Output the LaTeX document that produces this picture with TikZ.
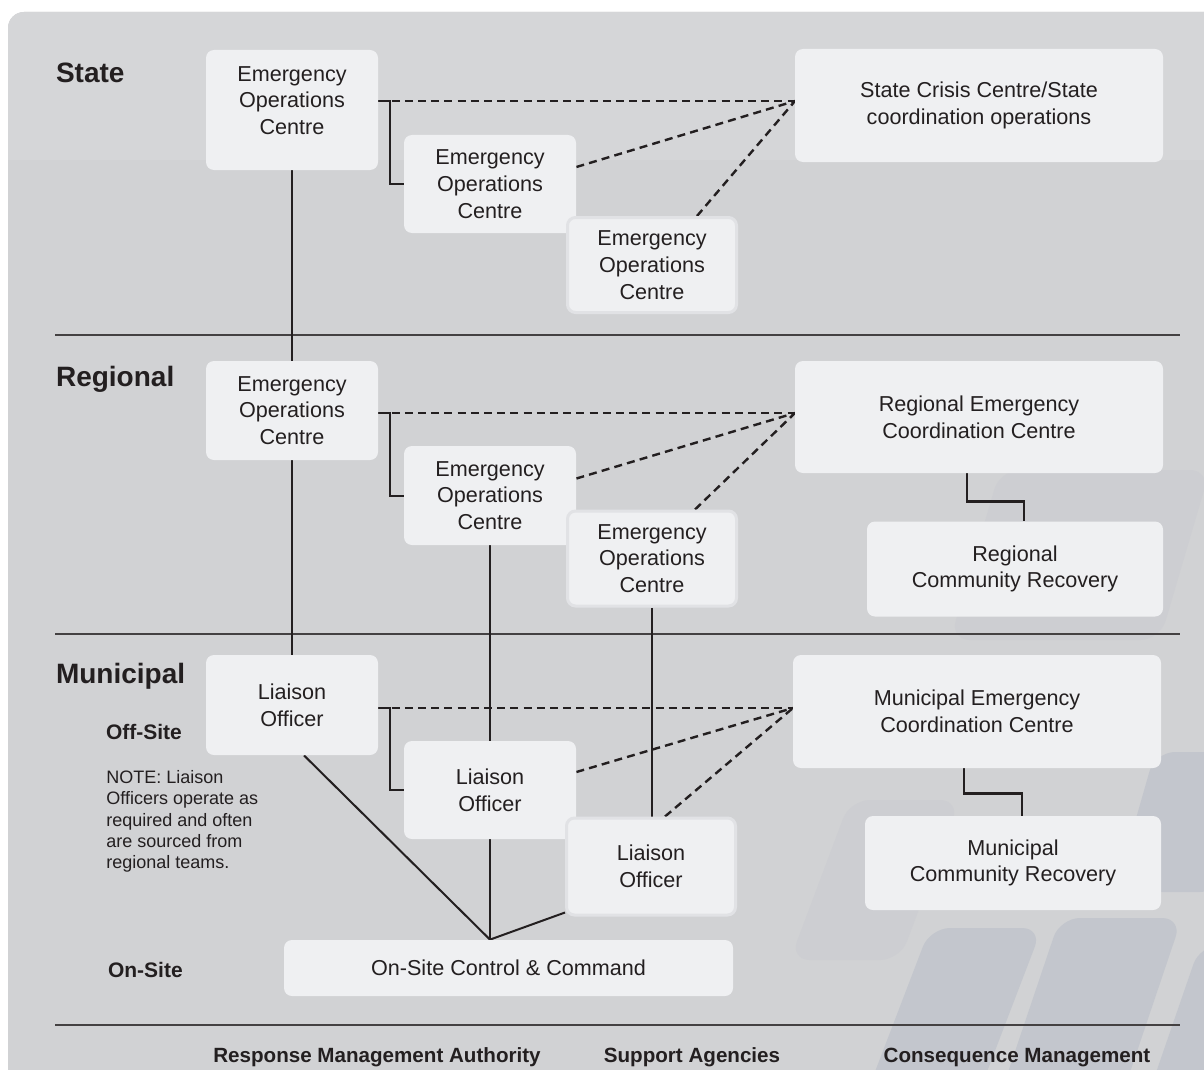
\documentclass[tikz,border=0pt]{standalone}
\usepackage{fontspec}
\setmainfont{Liberation Sans}

\definecolor{bggrey}{HTML}{D1D2D4}
\definecolor{bandgrey}{HTML}{D5D6D8}
\definecolor{boxfill}{HTML}{EFF0F2}
\definecolor{rimgrey}{HTML}{E1E2E5}
\definecolor{decogrey}{HTML}{C3C6CD}
\definecolor{decofaint}{HTML}{CDCED2}
\definecolor{ink}{HTML}{231F20}

\pgfdeclarelayer{backdrop}
\pgfdeclarelayer{wires}
\pgfsetlayers{backdrop,wires,main}

\tikzset{
    box/.style={rectangle, rounded corners=4pt, fill=boxfill, text=ink, align=center,
        inner sep=0pt, font=\fontsize{10.8}{13.35}\selectfont},
    rimbox/.style={box, draw=rimgrey, line width=1.5pt},
    link/.style={draw=ink, line width=1pt},
    dashlink/.style={draw=ink, line width=1.2pt, dash pattern=on 4pt off 2.6pt},
    level/.style={anchor=base west, text=ink, font=\bfseries\fontsize{14}{17}\selectfont},
    sublevel/.style={anchor=base west, text=ink, font=\bfseries\fontsize{10.5}{12}\selectfont},
    column/.style={anchor=base, text=ink, font=\bfseries\fontsize{10.3}{12}\selectfont},
    notetext/.style={anchor=north west, align=left, inner sep=0pt, text=ink,
        font=\fontsize{9}{10.65}\selectfont},
    deco/.style={fill=decogrey, rounded corners=10pt}
}

\begin{document}
\begin{tikzpicture}[x=0.5pt, y=-0.5pt]
    \useasboundingbox (0,0) rectangle (1204,1070);
    \clip (0,0) rectangle (1204,1070);

    \begin{pgfonlayer}{backdrop}
    \fill[white] (0,0) rectangle (1204,1070);
    \fill[bggrey, rounded corners=8pt] (8,12) rectangle (1240,1110);
    \fill[bandgrey] (8,160) [rounded corners=8pt] -- (8,12) -- (1240,12) [sharp corners] -- (1240,160) -- cycle;

    \fill[decofaint, rounded corners=10pt] (850,800) -- (960,800) -- (900,960) -- (790,960) -- cycle;
    \fill[decofaint, rounded corners=10pt] (1000,470) -- (1210,470) -- (1160,640) -- (950,640) -- cycle;
    \fill[deco] (1155,752) -- (1260,752) -- (1220,892) -- (1115,892) -- cycle;
    \fill[deco] (930,928) -- (1042,928) -- (980,1090) -- (868,1090) -- cycle;
    \fill[deco] (1060,918) -- (1182,918) -- (1124,1090) -- (1002,1090) -- cycle;
    \fill[deco] (1200,945) -- (1260,945) -- (1210,1090) -- (1150,1090) -- cycle;

    \draw[ink!85, line width=0.8pt] (55,335) -- (1180,335);
    \draw[ink!85, line width=0.8pt] (55,634) -- (1180,634);
    \draw[ink!85, line width=0.8pt] (55,1025) -- (1180,1025);
    \end{pgfonlayer}

    \node[level] (stateLbl) at (49,83) {State};
    \node[level] (regionalLbl) at (49,386) {Regional};
    \node[level] (municipalLbl) at (49,683) {Municipal};
    \node[sublevel] (offsiteLbl) at (99,739) {Off-Site};
    \node[sublevel] (onsiteLbl) at (101,977) {On-Site};
    \node[notetext] (liaisonNote) at (106,770) {NOTE: Liaison\\Officers operate as\\required and often\\are sourced from\\regional teams.};

    \node[box, minimum width=86pt, text height=42.35pt, text depth=17.65pt] (stateEoc) at (292,110) {Emergency\\Operations\\Centre};
    \node[box, minimum width=86pt, minimum height=49pt] (stateEocB) at (490,184) {Emergency\\Operations\\Centre};
    \node[rimbox, minimum width=84.5pt, minimum height=47.5pt] (stateEocC) at (652,265) {Emergency\\Operations\\Centre};
    \node[box, minimum width=184pt, minimum height=56.5pt] (stateCrisis) at (979,105.5) {State Crisis Centre/State\\coordination operations};

    \node[box, minimum width=86pt, minimum height=49.5pt] (regEoc) at (292,410.5) {Emergency\\Operations\\Centre};
    \node[box, minimum width=86pt, minimum height=49.5pt] (regEocB) at (490,495.5) {Emergency\\Operations\\Centre};
    \node[rimbox, minimum width=84.5pt, minimum height=47.5pt] (regEocC) at (652,558.5) {Emergency\\Operations\\Centre};
    \node[box, minimum width=184pt, minimum height=56pt] (regCoord) at (979,417) {Regional Emergency\\Coordination Centre};
    \node[box, minimum width=148pt, minimum height=47.5pt] (regRecovery) at (1015,569) {Regional\\Community Recovery};

    \node[box, minimum width=86pt, minimum height=50pt] (munLiaison) at (292,705) {Liaison\\Officer};
    \node[box, minimum width=86pt, minimum height=49pt] (munLiaisonB) at (490,790) {Liaison\\Officer};
    \node[rimbox, minimum width=84.5pt, minimum height=48.5pt] (munLiaisonC) at (651,866.5) {Liaison\\Officer};
    \node[box, minimum width=184pt, minimum height=56.5pt] (munCoord) at (977,711.5) {Municipal Emergency\\Coordination Centre};
    \node[box, minimum width=148pt, minimum height=47pt] (munRecovery) at (1013,863) {Municipal\\Community Recovery};

    \node[box, minimum width=224.5pt, minimum height=28pt] (onsiteCmd) at (508.5,968) {On-Site Control \& Command};

    \node[column] (rmaLbl) at (377,1062) {Response Management Authority};
    \node[column] (supportLbl) at (692,1062) {Support Agencies};
    \node[column] (consequenceLbl) at (1017,1062) {Consequence Management};

    \coordinate (stateHub) at (795,101);
    \coordinate (regHub) at (795,413);
    \coordinate (munHub) at (793,708);
    \coordinate (onsiteJoin) at (onsiteCmd.north -| regEocB.south);

    \begin{pgfonlayer}{wires}
    \draw[dashlink] (stateEoc.east |- stateHub) -- (stateHub);
    \draw[dashlink] ([yshift=8.5pt]stateEocB.east) -- (stateHub);
    \draw[dashlink] ([xshift=22.5pt]stateEocC.north) -- (stateHub);
    \draw[link] (stateEoc.east |- stateHub) -| ([xshift=-7pt]stateEocB.west) -- (stateEocB.west);

    \draw[dashlink] (regEoc.east |- regHub) -- (regHub);
    \draw[dashlink] ([yshift=8.5pt]regEocB.east) -- (regHub);
    \draw[dashlink] ([xshift=21.5pt]regEocC.north) -- (regHub);
    \draw[link] (regEoc.east |- regHub) -| ([xshift=-7pt]regEocB.west) -- (regEocB.west);

    \draw[dashlink] (munLiaison.east |- munHub) -- (munHub);
    \draw[dashlink] ([yshift=9pt]munLiaisonB.east) -- (munHub);
    \draw[dashlink] ([xshift=7pt]munLiaisonC.north) -- (munHub);
    \draw[link] (munLiaison.east |- munHub) -| ([xshift=-7pt]munLiaisonB.west) -- (munLiaisonB.west);

    \draw[link] (stateEoc.south) -- (regEoc.north);
    \draw[link] (regEoc.south) -- (munLiaison.north);
    \draw[link] (regEocB.south) -- (onsiteJoin);
    \draw[link] (regEocC.south) -- (regEocC.south |- munLiaisonC.north);
    \draw[link] ([xshift=6pt]munLiaison.south) -- (onsiteJoin);
    \draw[link] ([yshift=2pt]munLiaisonC.south west) -- (onsiteJoin);

    \draw[link, line width=1.2pt] ([xshift=-6pt]regCoord.south) -- ++(0,28) -| ([xshift=4.5pt]regRecovery.north);
    \draw[link, line width=1.2pt] ([xshift=-6.5pt]munCoord.south) -- ++(0,25) -| ([xshift=4.5pt]munRecovery.north);
    \end{pgfonlayer}
\end{tikzpicture}
\end{document}
